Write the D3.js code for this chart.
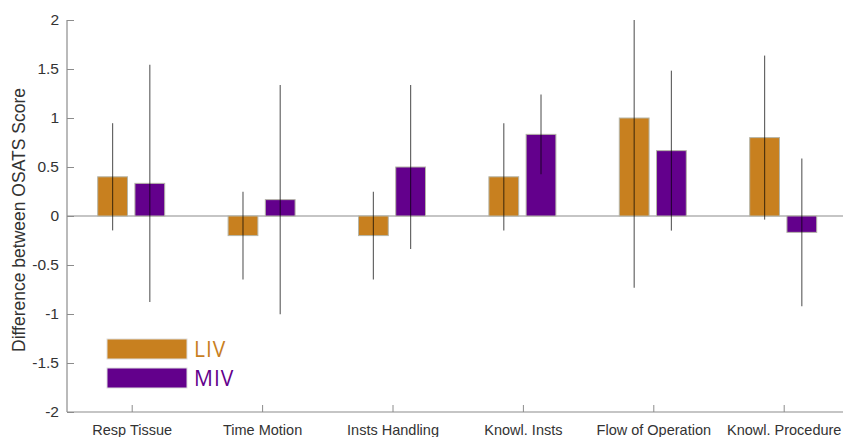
<!DOCTYPE html>
<html lang="en">
<head>
    <meta charset="UTF-8">
    <title>OSATS difference</title>
    <script src="https://d3js.org/d3.v7.min.js"></script>
    <style>
        body { margin: 0; background: #fff; }
        svg { font-family: "Liberation Sans", Arial, sans-serif; }
    </style>
</head>
<body>
<svg id="chart" width="843" height="437"></svg>

<script>
    const categories = ["Resp Tissue", "Time Motion", "Insts Handling", "Knowl. Insts", "Flow of Operation", "Knowl. Procedure"];
    const series = ["LIV", "MIV"];
    const livValues = [0.4, -0.2, -0.2, 0.4, 1.0, 0.8];
    const mivValues = [0.333, 0.167, 0.5, 0.833, 0.667, -0.167];
    const livErrors = [0.547, 0.447, 0.447, 0.547, 1.732, 0.837];
    const mivErrors = [1.211, 1.169, 0.837, 0.408, 0.816, 0.753];
    const yTicks = [-2, -1.5, -1, -0.5, 0, 0.5, 1, 1.5, 2];
    const colors = { LIV: "#c8801f", MIV: "#63008c" };

    const plotLeft = 67, plotTop = 20, plotBottom = 412;
    const step = 130.4;

    const svg = d3.select("#chart");

    const x = d3.scaleBand()
        .domain(categories)
        .range([plotLeft, plotLeft + step * categories.length])
        .padding(0);

    const x1 = d3.scaleBand()
        .domain(series)
        .range([-33.5, 33.5])
        .paddingInner(0.2);

    const y = d3.scaleLinear()
        .domain([-2, 2])
        .range([plotBottom, plotTop]);

    const rows = [];
    categories.forEach(function (c, i) {
        rows.push({ cat: c, s: "LIV", v: livValues[i], e: livErrors[i] });
        rows.push({ cat: c, s: "MIV", v: mivValues[i], e: mivErrors[i] });
    });

    const center = function (d) { return x(d.cat) + x.bandwidth() / 2; };

    // zero line
    svg.append("line")
        .attr("x1", plotLeft).attr("x2", 843)
        .attr("y1", y(0)).attr("y2", y(0))
        .attr("stroke", "#8c8c8c").attr("stroke-width", 1.2);

    // bars
    svg.append("g")
        .selectAll("rect")
        .data(rows).enter()
        .append("rect")
        .attr("x", function (d) { return center(d) + x1(d.s) - 1; })
        .attr("width", x1.bandwidth())
        .attr("y", function (d) { return y(Math.max(0, d.v)); })
        .attr("height", function (d) { return Math.abs(y(d.v) - y(0)); })
        .attr("fill", function (d) { return colors[d.s]; })
        .attr("stroke", "#b5b5a8").attr("stroke-width", 1);

    // error bars (clipped to the axis limits)
    svg.append("g")
        .selectAll("line")
        .data(rows).enter()
        .append("line")
        .attr("x1", function (d) { return center(d) + x1(d.s) + x1.bandwidth() / 2 - 1; })
        .attr("x2", function (d) { return center(d) + x1(d.s) + x1.bandwidth() / 2 - 1; })
        .attr("y1", function (d) { return y(Math.min(2, d.v + d.e)); })
        .attr("y2", function (d) { return y(Math.max(-2, d.v - d.e)); })
        .attr("stroke", "#000").attr("stroke-opacity", 0.6).attr("stroke-width", 1.2);

    // y axis
    const yAxis = svg.append("g")
        .attr("transform", "translate(" + plotLeft + ",0)")
        .call(d3.axisRight(y).tickValues(yTicks).tickSize(7).tickFormat(function (d) { return String(d); }));
    yAxis.select(".domain").attr("stroke", "#8c8c8c").attr("stroke-width", 1.2).attr("d", "M0," + plotTop + "V" + plotBottom);
    yAxis.selectAll(".tick line").attr("stroke", "#8c8c8c");
    yAxis.selectAll(".tick text")
        .attr("x", -8).attr("text-anchor", "end")
        .attr("font-size", 15.5).attr("fill", "#333");

    // x axis
    const xAxis = svg.append("g")
        .attr("transform", "translate(0," + plotBottom + ")")
        .call(d3.axisTop(x).tickSize(7));
    xAxis.select(".domain").attr("stroke", "#8c8c8c").attr("stroke-width", 1.2).attr("d", "M" + plotLeft + ",0H843");
    xAxis.selectAll(".tick line").attr("stroke", "#8c8c8c");
    xAxis.selectAll(".tick text")
        .attr("y", 23).attr("dy", 0)
        .attr("font-size", 14.5).attr("fill", "#333");

    // y label
    svg.append("text")
        .attr("transform", "translate(25," + 220 + ") rotate(-90)")
        .attr("text-anchor", "middle")
        .attr("font-size", 17.5)
        .attr("fill", "#333")
        .text("Difference between OSATS Score");

    // legend
    const legend = svg.append("g").attr("transform", "translate(107,339)");
    series.forEach(function (s, i) {
        legend.append("rect")
            .attr("x", 0).attr("y", i * 29)
            .attr("width", 80).attr("height", 20)
            .attr("fill", colors[s])
            .attr("stroke", "#ddd").attr("stroke-width", 1);
        legend.append("text")
            .attr("x", 87).attr("y", i * 29 + 18)
            .attr("font-family", "'Open Sans', sans-serif")
            .attr("font-size", 21)
            .attr("letter-spacing", 1)
            .attr("fill", colors[s])
            .text(s);
    });
</script>
</body>
</html>
